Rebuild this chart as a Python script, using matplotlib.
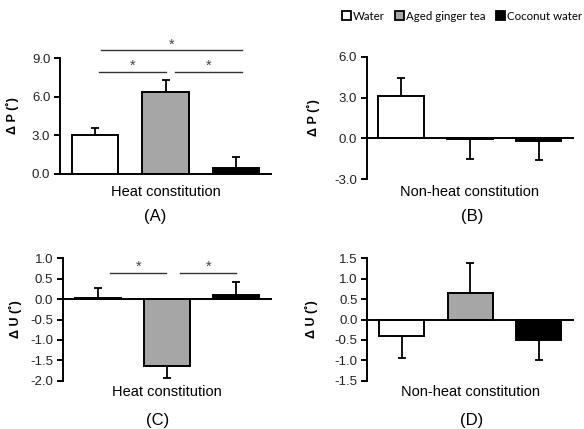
import matplotlib
matplotlib.use("Agg")
import matplotlib.pyplot as plt
from matplotlib.patches import Patch

plt.rcParams['font.family'] = ['Liberation Sans', 'DejaVu Sans']
plt.rcParams['axes.unicode_minus'] = False

# ---- data ----
groups = ["Water", "Aged ginger tea", "Coconut water"]
colors = ["#ffffff", "#a6a6a6", "#000000"]

p_heat = [3.0, 6.4, 0.5]
p_heat_err = [0.55, 0.9, 0.85]
p_nonheat = [3.15, -0.05, -0.2]
p_nonheat_err = [1.3, 1.45, 1.4]
u_heat = [0.03, -1.63, 0.09]
u_heat_err = [0.25, 0.31, 0.33]
u_nonheat = [-0.41, 0.65, -0.51]
u_nonheat_err = [0.53, 0.73, 0.49]

p_heat_ticks = [0.0, 3.0, 6.0, 9.0]
p_nonheat_ticks = [-3.0, 0.0, 3.0, 6.0]
u_heat_ticks = [-2.0, -1.5, -1.0, -0.5, 0.0, 0.5, 1.0]
u_nonheat_ticks = [-1.5, -1.0, -0.5, 0.0, 0.5, 1.0, 1.5]

# significance brackets: (i, j, level)
sig_a = [(0, 1, 7.93), (1, 2, 7.93), (0, 2, 9.6)]
sig_c = [(0, 1, 0.645), (1, 2, 0.645)]

W, H = 584, 429
fig = plt.figure(figsize=(W / 100, H / 100), dpi=100)


def px_axes(x0, x1, ytop, ybot):
    return fig.add_axes([x0 / W, 1 - ybot / H, (x1 - x0) / W, (ybot - ytop) / H])


def panel(ax, vals, errs, ticks, ylabel, xlabel, ylab_off, xlab_y):
    x = list(range(len(vals)))
    lo = [e if v < 0 else 0 for v, e in zip(vals, errs)]
    hi = [e if v >= 0 else 0 for v, e in zip(vals, errs)]
    ax.bar(x, vals, width=0.66, color=colors, edgecolor='black', linewidth=1.4, zorder=2)
    ax.errorbar(x, vals, yerr=[lo, hi], fmt='none', ecolor='black', elinewidth=1.3,
                capsize=2.8, capthick=1.3, zorder=1)
    ax.set_xlim(-0.5, 2.5)
    ax.set_ylim(ticks[0], ticks[-1])
    ax.set_yticks(ticks)
    ax.set_yticklabels([f"{t:.1f}" for t in ticks], fontsize=9.5, color='#222222')
    ax.set_xticks([])
    for s in ['top', 'right']:
        ax.spines[s].set_visible(False)
    ax.spines['bottom'].set_position(('data', 0))
    ax.spines['left'].set_linewidth(1.4)
    ax.spines['bottom'].set_linewidth(1.4)
    ax.tick_params(axis='y', direction='out', length=4, width=1.4, pad=3)
    ax.set_ylabel(ylabel, fontsize=9, fontweight='bold')
    ax.yaxis.set_label_coords(ylab_off, 0.5)
    ax.set_xlabel(xlabel, fontsize=10.5)
    ax.xaxis.set_label_coords(0.5, xlab_y)
    ax.xaxis.label.set_verticalalignment('center')


def brackets(ax, sigs, starts, ends, off):
    for (i, j, y), s, e in zip(sigs, starts, ends):
        ax.plot([i + s, j + e], [y, y], color='#333333', lw=1.0, clip_on=False)
        ax.annotate('*', xy=((i + s + j + e) / 2, y), xytext=(0, off), textcoords='offset points',
                    ha='center', va='bottom', fontsize=10.5, color='#444444', annotation_clip=False)


axA = px_axes(60, 271, 58, 174)
panel(axA, p_heat, p_heat_err, p_heat_ticks, "Δ P (˚)", "Heat constitution", -41 / 211, (174 - 191.5) / 116)
brackets(axA, sig_a, [0.06, 0.14, 0.09], [0.0, 0.09, 0.09], -1)

axB = px_axes(366.7, 573, 56.7, 179.3)
panel(axB, p_nonheat, p_nonheat_err, p_nonheat_ticks, "Δ P (˚)", "Non-heat constitution", -47 / 206, (179.3 - 191.5) / 122.6)

axC = px_axes(63, 271, 258.3, 380.7)
panel(axC, u_heat, u_heat_err, u_heat_ticks, "Δ U (˚)", "Heat constitution", -41 / 208, (380.7 - 391.5) / 122.4)
brackets(axC, sig_c, [0.18, 0.19], [-0.01, 0.0], -1)

axD = px_axes(367.3, 573, 258.3, 380.7)
panel(axD, u_nonheat, u_nonheat_err, u_nonheat_ticks, "Δ U (˚)", "Non-heat constitution", -49 / 206, (380.7 - 391.5) / 122.4)

for lab, xc, yc in [("(A)", 155, 217), ("(B)", 472, 217), ("(C)", 158, 420), ("(D)", 472, 420)]:
    fig.text(xc / W, 1 - yc / H, lab, ha='center', va='center', fontsize=12)

handles = [Patch(facecolor=c, edgecolor='black', linewidth=1.3, label=g) for c, g in zip(colors, groups)]
fig.legend(handles=handles, loc='center right', bbox_to_anchor=(582 / W, 1 - 16 / H), ncol=3,
           frameon=False, handlelength=0.75, handleheight=0.75, handletextpad=0.2,
           columnspacing=0.9, borderpad=0, borderaxespad=0,
           prop={'family': 'Lato', 'size': 8.3})

fig.savefig("out.png", dpi=100)
